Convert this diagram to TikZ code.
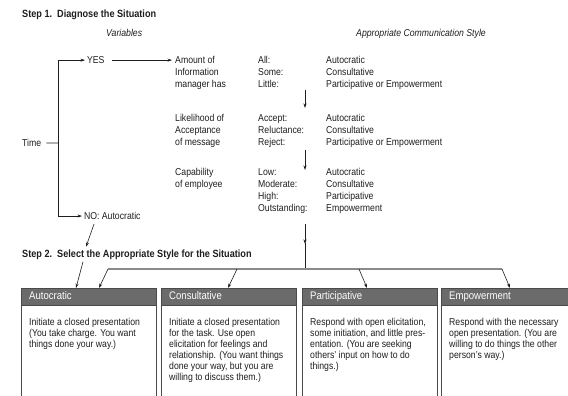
\documentclass[tikz,border=0pt]{standalone}
\usepackage{fontspec}
\setmainfont{Liberation Sans}[FakeStretch=0.87]
\usepackage{tikz}
\usetikzlibrary{arrows.meta}
\definecolor{ink}{HTML}{1E1E1E}
\definecolor{hdrgray}{HTML}{6B6B6B}
\definecolor{busgray}{HTML}{8A8A8A}
\definecolor{framegray}{HTML}{4A4A4A}

\begin{document}
\begin{tikzpicture}[x=1pt,y=1pt,
  txt/.style={font=\fontsize{10}{12}\selectfont, text=ink, align=left},
  body/.style={font=\fontsize{10}{11}\selectfont, text=ink, align=left, anchor=north west},
  ttl/.style={font=\bfseries\fontsize{10.5}{12}\selectfont, text=ink, anchor=base west},
  colhd/.style={font=\itshape\fontsize{10}{12}\selectfont, text=ink, anchor=base west},
  hdr/.style={fill=hdrgray, draw=framegray, anchor=north west, text=white,
    font=\fontsize{11}{12}\selectfont, text width=119pt, align=left,
    inner xsep=8pt, inner ysep=0pt, minimum height=17pt, text height=8pt, text depth=2pt},
  arr/.style={-{Stealth[length=4.5pt,width=3pt]}, ink, line width=0.6pt},
  bus/.style={busgray, line width=1.2pt},
  frame/.style={framegray, line width=0.8pt}]
\tikzstyle{every node}+=[inner sep=0pt]
\useasboundingbox (0,0) rectangle (568,-396);
% step 1
\draw (22,-17.8) node [ttl] (step1) {Step 1.\ \ Diagnose the Situation};
\draw (106,-36.6) node [colhd] (varhd) {Variables};
\draw (356,-36.6) node [colhd] (stylehd) {Appropriate Communication Style};
\draw (22,-146.6) node [txt, anchor=base west] (time) {Time};
\coordinate (fork) at (58,-143);
\draw (85,-63.6) node [txt, anchor=base west, outer sep=2pt] (yes) {YES};
\draw (82,-219.6) node [txt, anchor=base west, outer sep=2pt] (no) {NO: Autocratic};
\draw [ink, line width=0.6pt] ([xshift=5pt]time.east) -- (fork);
\draw [arr] (fork) |- (yes);
\draw [arr] (fork) |- (no);
% variables
\draw (175,-56.4) node [txt, anchor=north west] (amount) {Amount of\\Information\\manager has};
\draw (175,-114.4) node [txt, anchor=north west] (likeli) {Likelihood of\\Acceptance\\of message};
\draw (175,-168.4) node [txt, anchor=north west] (capab) {Capability\\of employee};
\draw [arr, shorten <=6pt, shorten >=3pt] (yes) -- (yes -| amount.west);
% styles
\draw (258,-56.4) node [txt, anchor=north west] (lvl1) {All:\\Some:\\Little:};
\draw (326,-56.4) node [txt, anchor=north west] (sty1) {Autocratic\\Consultative\\Participative or Empowerment};
\draw (258,-114.4) node [txt, anchor=north west] (lvl2) {Accept:\\Reluctance:\\Reject:};
\draw (326,-114.4) node [txt, anchor=north west] (sty2) {Autocratic\\Consultative\\Participative or Empowerment};
\draw (258,-168.4) node [txt, anchor=north west] (lvl3) {Low:\\Moderate:\\High:\\Outstanding:};
\draw (326,-168.4) node [txt, anchor=north west] (sty3) {Autocratic\\Consultative\\Participative\\Empowerment};
\coordinate (join) at (305,-269);
\draw [arr] ([yshift=-1.5pt]lvl1.south -| join) -- ([yshift=6.4pt]lvl2.north -| join);
\draw [arr] ([yshift=-2.3pt]lvl2.south -| join) -- ([yshift=-1.6pt]lvl3.north -| join);
\draw [arr] ([yshift=-10pt]lvl3.south -| join) -- ([yshift=25pt]join);
\draw [ink, line width=0.6pt] ([yshift=26pt]join) -- (join);
% step 2
\draw (22,-257.8) node [ttl] (step2) {Step 2.\ \ Select the Appropriate Style for the Situation};
\coordinate (busl) at (108,-269);
\coordinate (tap2) at (237,-269);
\coordinate (tap3) at (359,-269);
\coordinate (busr) at (502,-269);
\draw [bus] (busl) -- (busr);
\draw (21,-288) node [hdr] (hdr1) {Autocratic};
\draw (161,-288) node [hdr] (hdr2) {Consultative};
\draw (302,-288) node [hdr] (hdr3) {Participative};
\draw (441,-288) node [hdr] (hdr4) {Empowerment};
\draw [frame] (hdr1.south west) -- ++(0,-100);
\draw [frame] (hdr1.south east) -- ++(0,-100);
\draw [frame] (hdr2.south west) -- ++(0,-100);
\draw [frame] (hdr2.south east) -- ++(0,-100);
\draw [frame] (hdr3.south west) -- ++(0,-100);
\draw [frame] (hdr3.south east) -- ++(0,-100);
\draw [frame] (hdr4.south west) -- ++(0,-100);
\draw [frame] (hdr4.south east) -- ++(0,-100);
\draw ([xshift=8pt,yshift=-12.4pt]hdr1.south west) node [body] (txt1) {Initiate a closed presentation\\(You take charge. You want\\things done your way.)};
\draw ([xshift=8pt,yshift=-12.4pt]hdr2.south west) node [body] (txt2) {Initiate a closed presentation\\for the task. Use open\\elicitation for feelings and\\relationship. (You want things\\done your way, but you are\\willing to discuss them.)};
\draw ([xshift=8pt,yshift=-12.4pt]hdr3.south west) node [body] (txt3) {Respond with open elicitation,\\some initiation, and little pres-\\entation. (You are seeking\\others' input on how to do\\things.)};
\draw ([xshift=8pt,yshift=-12.4pt]hdr4.south west) node [body] (txt4) {Respond with the necessary\\open presentation. (You are\\willing to do things the other\\person's way.)};
\draw [arr] ([xshift=12pt,yshift=-4.5pt]no.base west) -- ([xshift=64pt,yshift=11pt]step2.base west);
\draw [arr] ([xshift=61pt,yshift=-4pt]step2.base west) -- ([xshift=55pt]hdr1.north west);
\draw [arr] (busl) -- ([xshift=78pt]hdr1.north west);
\draw [arr] (tap2) -- ([xshift=67pt]hdr2.north west);
\draw [arr] (tap3) -- ([xshift=65pt]hdr3.north west);
\draw [arr] (busr) -- ([xshift=69pt]hdr4.north west);
\end{tikzpicture}
\end{document}
